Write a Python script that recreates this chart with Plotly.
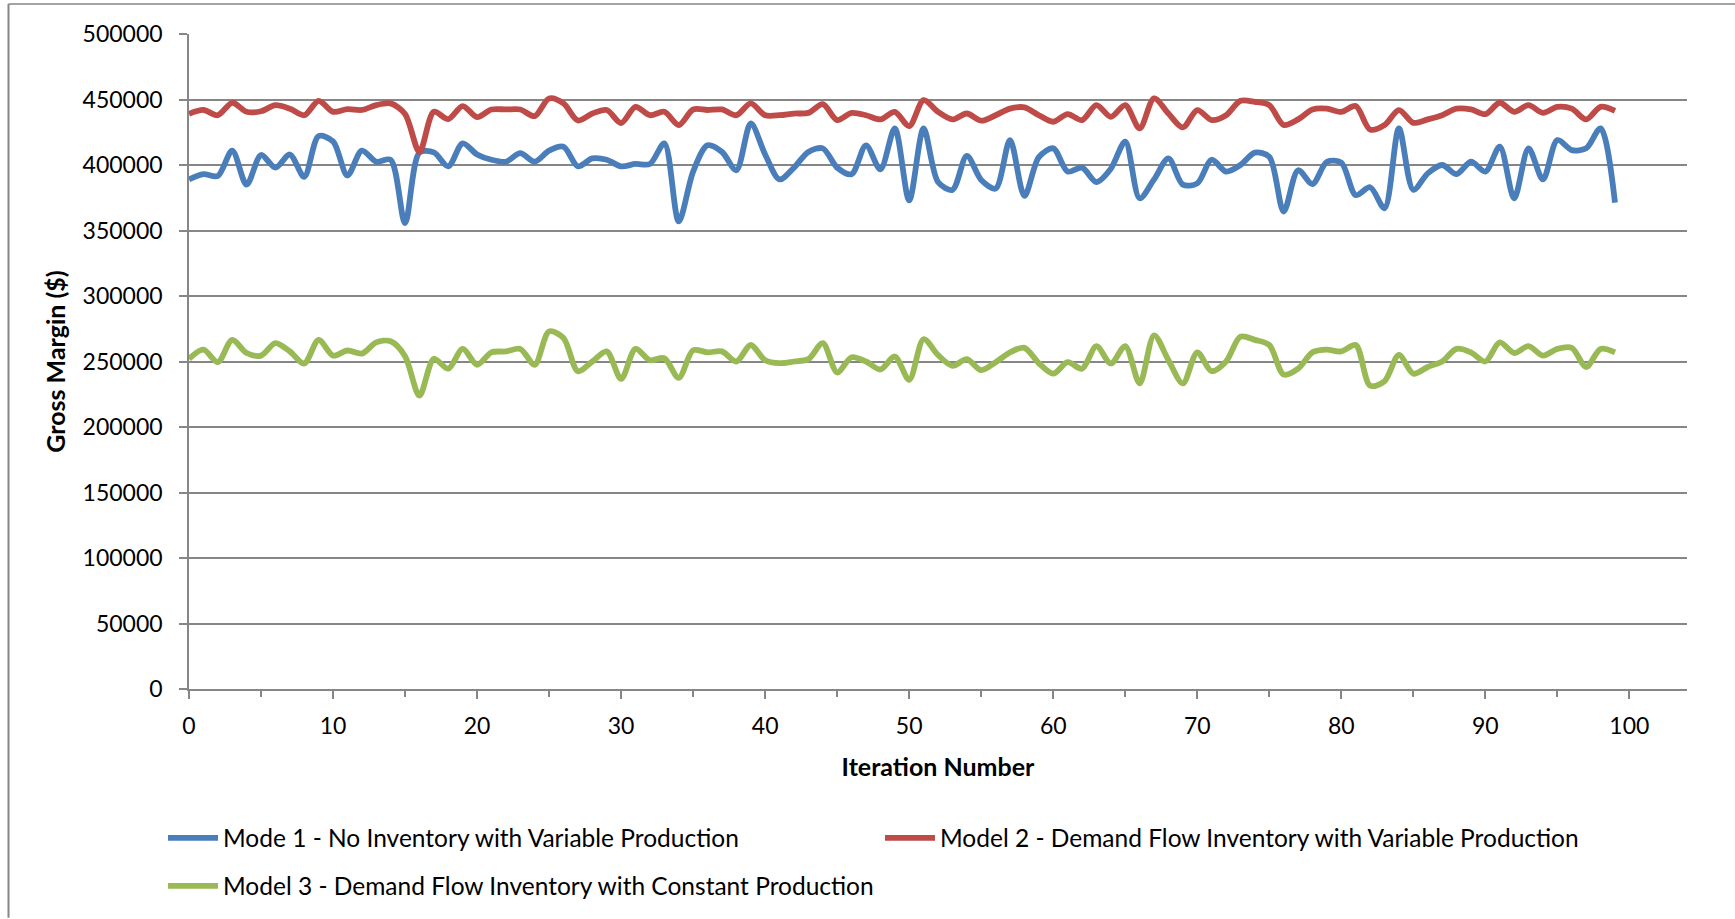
import plotly.graph_objects as go

iterations = list(range(100))

model1 = [389000, 393000, 391600, 411000, 385000, 407600, 398000, 408000, 391000, 422000,
          418000, 392000, 411000, 402500, 404000, 355600, 409600, 409600, 399000, 416500,
          408000, 404000, 402500, 409000, 402500, 411000, 414000, 399000, 405000, 404000,
          399000, 400800, 400800, 416500, 357000, 395000, 415000, 410000, 396000, 431700,
          408000, 389000, 398000, 410000, 412700, 398000, 393000, 415000, 396700, 428000,
          373000, 428000, 387000, 381000, 407000, 388600, 382000, 419000, 376400, 406000,
          412700, 395000, 398000, 387000, 397200, 417800, 374600, 389000, 405000, 385000,
          386000, 404000, 395000, 400000, 409400, 406300, 364500, 396000, 385500, 402500,
          401800, 377000, 383000, 367000, 428000, 381000, 393600, 400000, 393000, 402500,
          395000, 414000, 374600, 412700, 389000, 419000, 411400, 412700, 428000, 371300]

model2 = [439000, 442000, 438000, 447500, 440600, 441000, 445700, 443000, 438000, 449000,
          440600, 442600, 442000, 445700, 447000, 439000, 410000, 440600, 435000, 445000,
          436500, 442400, 442400, 442400, 437300, 450800, 447000, 434000, 439300, 442000,
          432000, 444400, 438000, 440600, 430500, 442400, 442000, 442400, 438000, 447000,
          438000, 438000, 439300, 439800, 446400, 434300, 439800, 438000, 434800, 440600,
          429700, 449500, 440600, 434800, 439300, 433800, 438000, 443000, 444000, 438000,
          433000, 438800, 434300, 445700, 436800, 445700, 428000, 450800, 439300, 428700,
          441900, 434300, 438000, 449000, 448200, 445700, 430500, 434800, 442400, 443000,
          440600, 445000, 427000, 430500, 441900, 432200, 434800, 438000, 443000, 442400,
          438800, 447500, 440600, 445700, 439800, 444400, 443000, 434800, 444400, 441400]

model3 = [252000, 259000, 249500, 266500, 256500, 254500, 264000, 257700, 248500, 266500,
          254500, 258400, 256000, 264600, 265400, 254000, 224000, 252000, 244500, 259600,
          247500, 257000, 257700, 259600, 247500, 273000, 268000, 242600, 250000, 257700,
          236700, 259600, 251000, 252500, 237500, 258600, 257000, 257700, 250000, 262600,
          251000, 248700, 250000, 251800, 264000, 241600, 253300, 250000, 243900, 253800,
          236000, 267000, 255000, 246700, 251800, 243400, 249500, 257000, 260400, 248700,
          240700, 249500, 244500, 261700, 248500, 261700, 233300, 270000, 251000, 233300,
          257000, 242600, 250000, 269000, 266500, 262600, 240000, 244500, 257000, 259000,
          257700, 262600, 231500, 235000, 255000, 240700, 245800, 250000, 259600, 257000,
          250000, 264600, 256500, 261700, 254500, 259600, 260400, 245800, 259600, 257000]

names = ["Mode 1 - No Inventory with Variable Production",
         "Model 2 - Demand Flow Inventory with Variable Production",
         "Model 3 - Demand Flow Inventory with Constant Production"]
colors = ["#4A7EBB", "#BE4B48", "#98B954"]

FONT = "Lato"

fig = go.Figure()
for vals, nm, col, lg in zip([model1, model2, model3], names, colors, ["legend", "legend", "legend2"]):
    fig.add_trace(go.Scatter(x=iterations, y=vals, mode="lines", name=nm, legend=lg,
                             line=dict(color=col, width=5.8, shape="spline", smoothing=0.85)))

W, H = 1735, 919
L, R, T, B = 189, 48, 34, 229
pw, ph = W - L - R, H - T - B

def px_x(p):
    return (p - L) / pw

def px_y(p):
    return (H - B - p) / ph

grid = "#868686"

fig.update_layout(
    width=W, height=H,
    margin=dict(l=L, r=R, t=T, b=B),
    paper_bgcolor="white", plot_bgcolor="white",
    font=dict(family=FONT, color="black", size=23),
    xaxis=dict(range=[0, 104], tickmode="linear", tick0=0, dtick=10,
               ticks="outside", ticklen=8, tickwidth=1.5, tickcolor=grid,
               minor=dict(ticks="outside", dtick=5, ticklen=6, tickwidth=1.5, tickcolor=grid),
               showline=True, linecolor=grid, linewidth=1.5, showgrid=False, zeroline=False,
               tickfont=dict(size=23, family=FONT), ticklabelstandoff=8,
               title=dict(text="<b>Iteration Number</b>", font=dict(size=25, family=FONT), standoff=20)),
    yaxis=dict(range=[0, 500000], tickmode="linear", tick0=0, dtick=50000,
               ticks="outside", ticklen=8, tickwidth=1.5, tickcolor=grid,
               showline=True, linecolor=grid, linewidth=1.5,
               showgrid=True, gridcolor=grid, gridwidth=1.5, zeroline=False,
               tickformat="d", ticklabelstandoff=12,
               tickfont=dict(size=23, family=FONT),
               title=dict(text="<b>Gross Margin ($)</b>", font=dict(size=25, family=FONT), standoff=10)),
    legend=dict(orientation="h", x=px_x(163), xanchor="left", y=px_y(838), yanchor="middle",
                entrywidth=652, entrywidthmode="pixels", font=dict(size=24.5, family=FONT),
                bgcolor="rgba(0,0,0,0)", itemwidth=50),
    legend2=dict(orientation="h", x=px_x(163), xanchor="left", y=px_y(886), yanchor="middle",
                 font=dict(size=24.5, family=FONT), bgcolor="rgba(0,0,0,0)", itemwidth=50),
    shapes=[
        dict(type="line", xref="paper", yref="paper", x0=px_x(8.5), x1=px_x(W), y0=px_y(4), y1=px_y(4),
             line=dict(color=grid, width=1.5)),
        dict(type="line", xref="paper", yref="paper", x0=px_x(8.5), x1=px_x(8.5), y0=px_y(4), y1=px_y(H),
             line=dict(color=grid, width=2)),
    ],
)

fig.write_html("out.html", post_script="document.body.style.margin='0px';",
               config={"displayModeBar": False})
